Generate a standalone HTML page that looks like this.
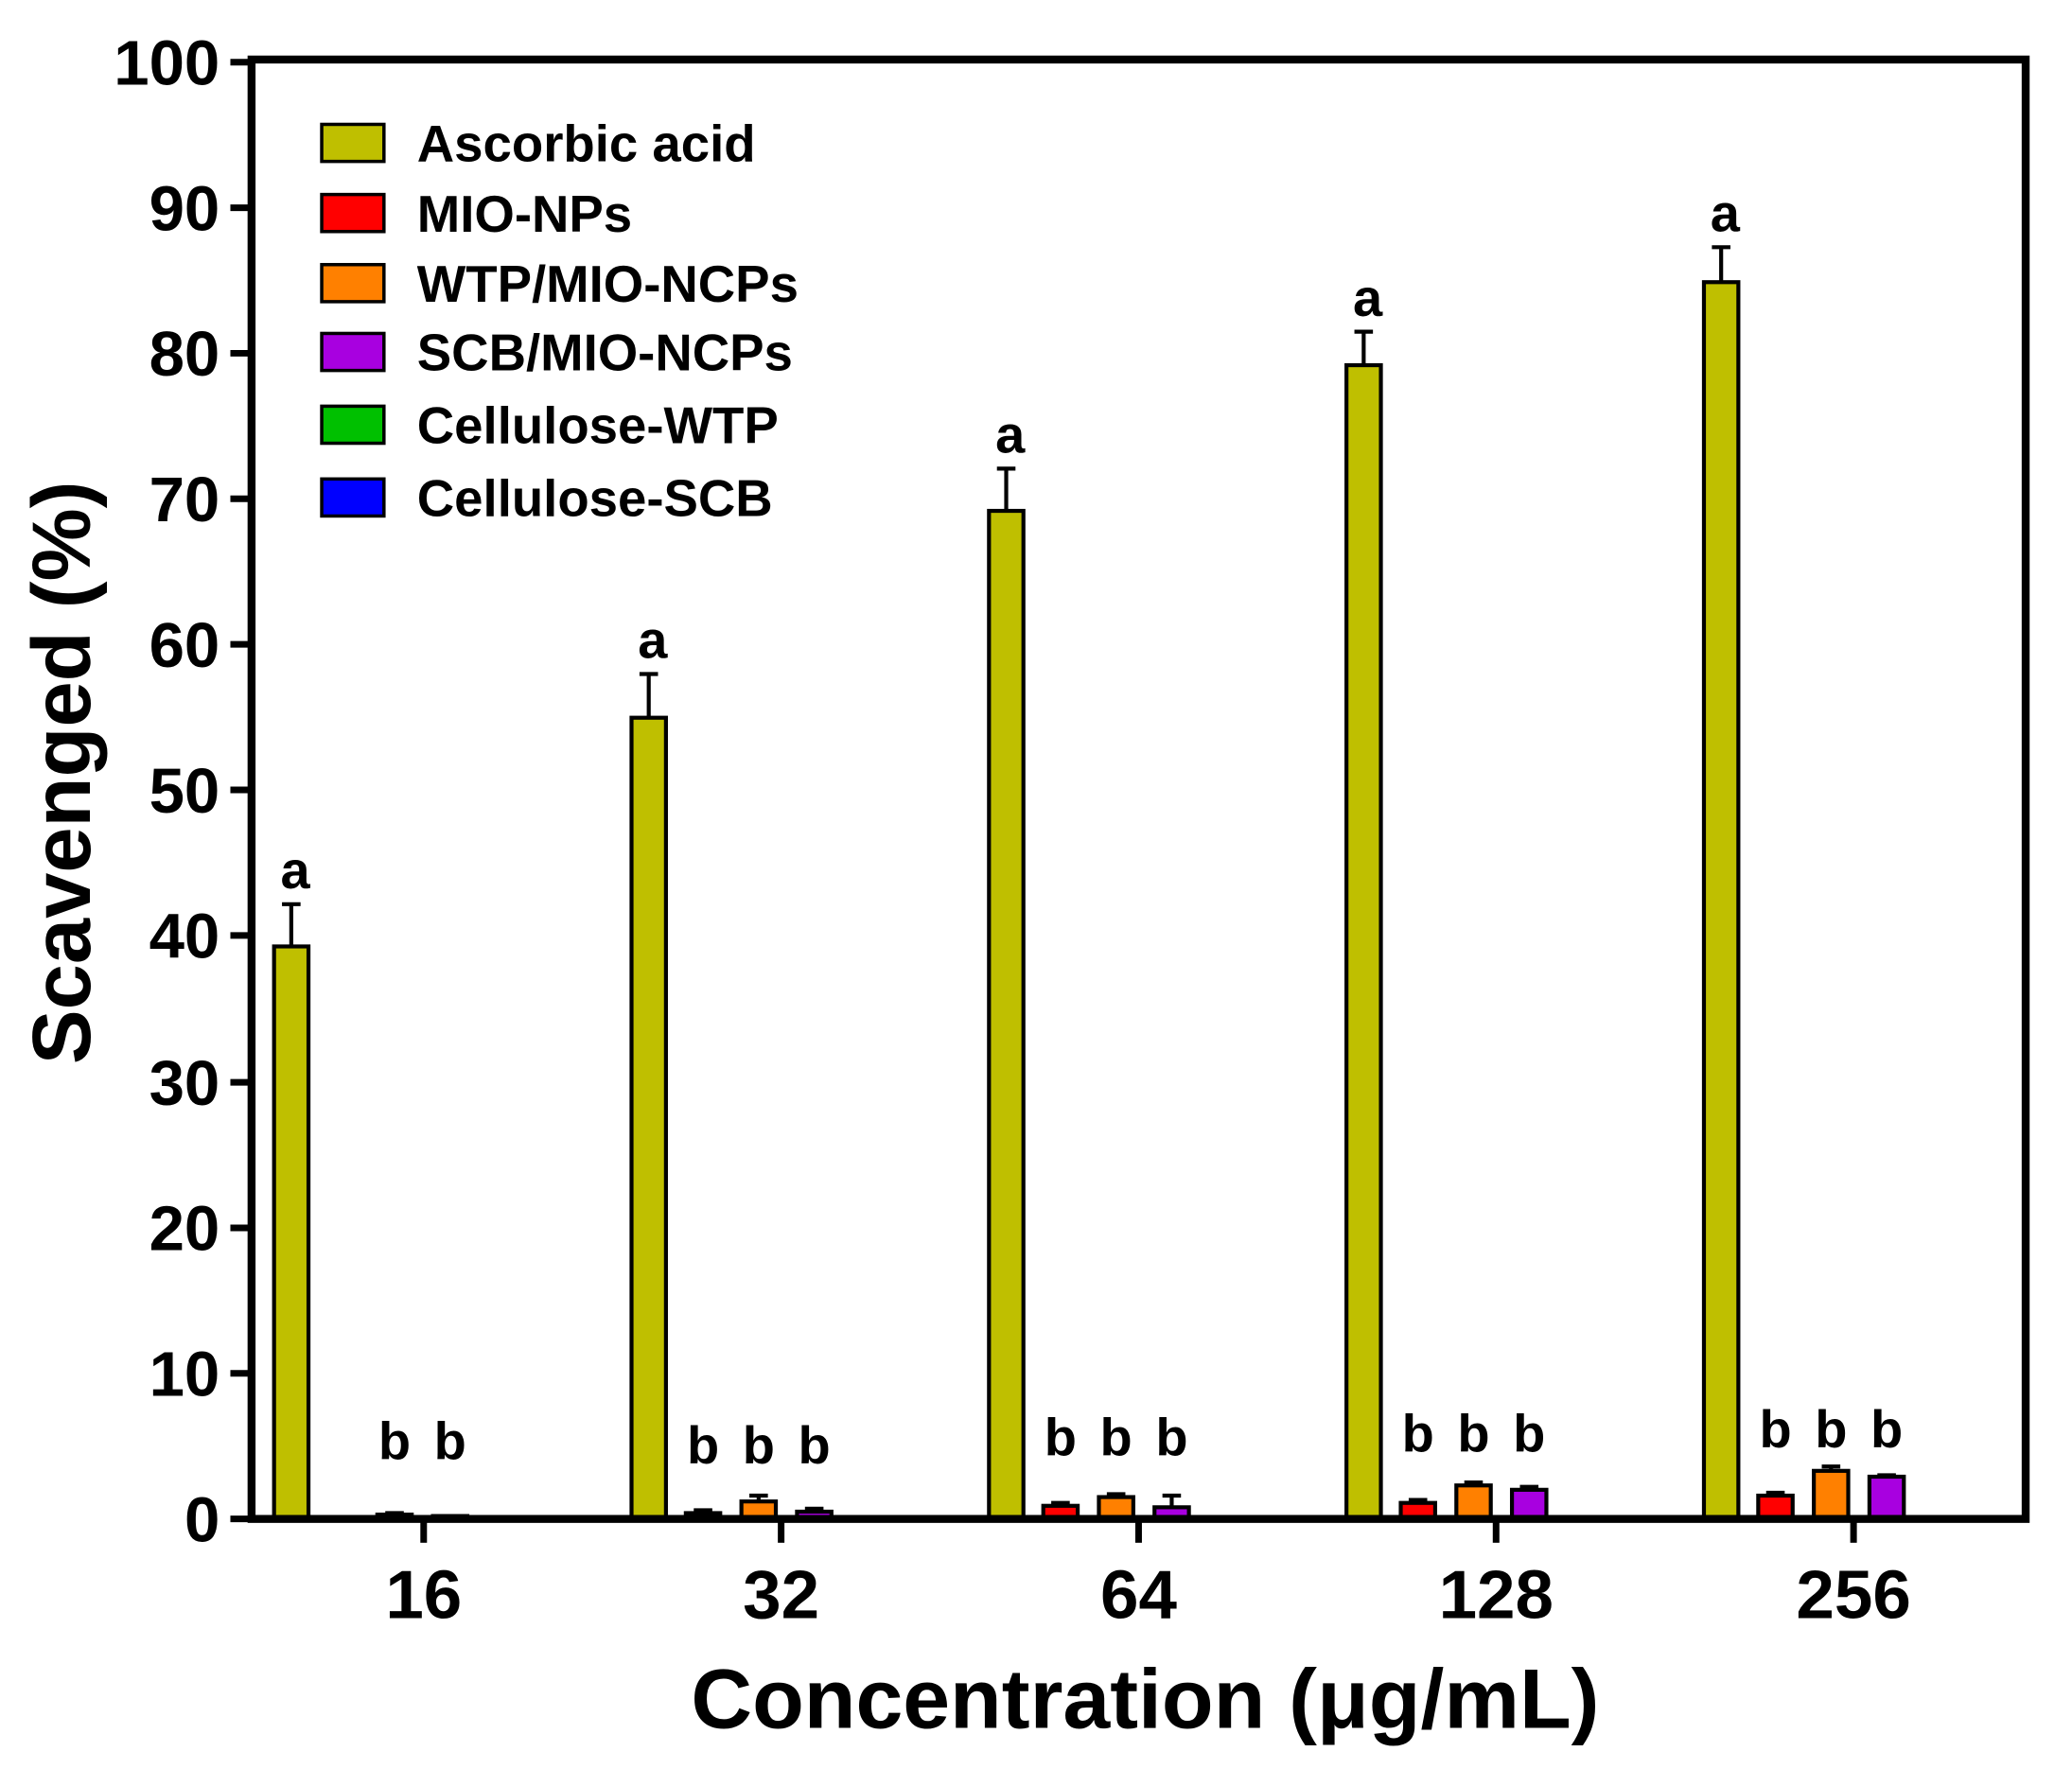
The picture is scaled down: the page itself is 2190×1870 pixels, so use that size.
<!DOCTYPE html>
<html><head><meta charset="utf-8"><style>html,body{margin:0;padding:0;background:#fff}svg{display:block}</style></head>
<body>
<svg width="2190" height="1870" viewBox="0 0 1565 1337" preserveAspectRatio="none" xmlns="http://www.w3.org/2000/svg" font-family="Liberation Sans, Arial, sans-serif" font-weight="bold">
<rect width="1565" height="1337" fill="#fff"/>
<g id="bars" stroke="#000" stroke-width="3"></g>
<g stroke="#000" stroke-width="6" fill="none">
<rect x="190" y="45" width="1340" height="1103"/>
</g>
<g stroke="#000" stroke-width="5">
<line x1="174" y1="1148" x2="190" y2="1148"/><line x1="174" y1="1038" x2="190" y2="1038"/><line x1="174" y1="928" x2="190" y2="928"/><line x1="174" y1="818" x2="190" y2="818"/><line x1="174" y1="707" x2="190" y2="707"/><line x1="174" y1="597" x2="190" y2="597"/><line x1="174" y1="487" x2="190" y2="487"/><line x1="174" y1="377" x2="190" y2="377"/><line x1="174" y1="267" x2="190" y2="267"/><line x1="174" y1="157" x2="190" y2="157"/><line x1="174" y1="47" x2="190" y2="47"/>
<line x1="320" y1="1148" x2="320" y2="1166"/><line x1="590" y1="1148" x2="590" y2="1166"/><line x1="860" y1="1148" x2="860" y2="1166"/><line x1="1130" y1="1148" x2="1130" y2="1166"/><line x1="1400" y1="1148" x2="1400" y2="1166"/>
</g>
<g font-size="48" text-anchor="end">
<text x="166" y="1165">0</text><text x="166" y="1055">10</text><text x="166" y="945">20</text><text x="166" y="835">30</text><text x="166" y="724">40</text><text x="166" y="614">50</text><text x="166" y="504">60</text><text x="166" y="394">70</text><text x="166" y="284">80</text><text x="166" y="174">90</text><text x="166" y="64">100</text>
</g>
<g font-size="52" text-anchor="middle">
<text x="320" y="1223">16</text><text x="590" y="1223">32</text><text x="860" y="1223">64</text><text x="1130" y="1223">128</text><text x="1400" y="1223">256</text>
</g>
<text x="865" y="1306" font-size="64" text-anchor="middle">Concentration (μg/mL)</text>
<text transform="translate(68,584) rotate(-90)" font-size="62" text-anchor="middle">Scavenged (%)</text>
<g stroke="#000" stroke-width="2.5">
<rect x="243" y="94" width="47" height="28" fill="#BFBF00"/>
<rect x="243" y="147" width="47" height="28" fill="#FF0000"/>
<rect x="243" y="200" width="47" height="28" fill="#FF8000"/>
<rect x="243" y="252" width="47" height="28" fill="#A800E0"/>
<rect x="243" y="307" width="47" height="28" fill="#00C000"/>
<rect x="243" y="362" width="47" height="28" fill="#0000FF"/>
</g>
<g font-size="39">
<text x="315" y="122">Ascorbic acid</text><text x="315" y="175">MIO-NPs</text><text x="315" y="228">WTP/MIO-NCPs</text><text x="315" y="280">SCB/MIO-NCPs</text><text x="315" y="335">Cellulose-WTP</text><text x="315" y="390">Cellulose-SCB</text>
</g>
<g id="labels" font-size="40" text-anchor="middle"></g>
<script>
var d=[[320,39.3,42.2,[null,null],[0.3,0.4],[0.2,0.2]],[590,55,58,[0.4,0.6],[1.2,1.6],[0.5,0.7]],[860,69.2,72.1,[0.9,1.1],[1.5,1.7],[0.8,1.6]],[1130,79.2,81.5,[1.1,1.3],[2.3,2.5],[2.0,2.2]],[1400,84.9,87.3,[1.6,1.8],[3.3,3.6],[2.9,3.0]]];
var Y=function(v){return 1148-v*11.01};var ns="http://www.w3.org/2000/svg";
var g=document.getElementById("bars"),L=document.getElementById("labels");
function el(p,t,a){var e=document.createElementNS(ns,t);for(var k in a)e.setAttribute(k,a[k]);p.appendChild(e);return e}
function bar(cx,v,e,c){el(g,"line",{x1:cx,y1:Y(v),x2:cx,y2:Y(e)});el(g,"line",{x1:cx-7,y1:Y(e),x2:cx+7,y2:Y(e)});el(g,"rect",{x:cx-13,y:Y(v),width:26,height:Math.max(1148-Y(v),0.5),fill:c});}
d.forEach(function(r){var c=r[0];bar(c-100,r[1],r[2],"#BFBF00");var t=el(L,"text",{x:c-97,y:Y(r[2])-12});t.textContent="a";
var cols=["#FF0000","#FF8000","#A800E0"],off=(c==320)?[0,-22,20]:[-59,-17,25];
for(var i=0;i<3;i++){var s=r[3+i];if(s[0]==null)continue;bar(c+off[i],s[0],s[1],cols[i]);}
var xs=c==320?[c-22,c+20]:[c-59,c-17,c+25];var ly=c==320?1103:(c==590?1106:(c==860?1100:(c==1130?1097:1094)));
xs.forEach(function(x){var t=el(L,"text",{x:x,y:ly});t.textContent="b";});});
</script>
</svg>
</body></html>
